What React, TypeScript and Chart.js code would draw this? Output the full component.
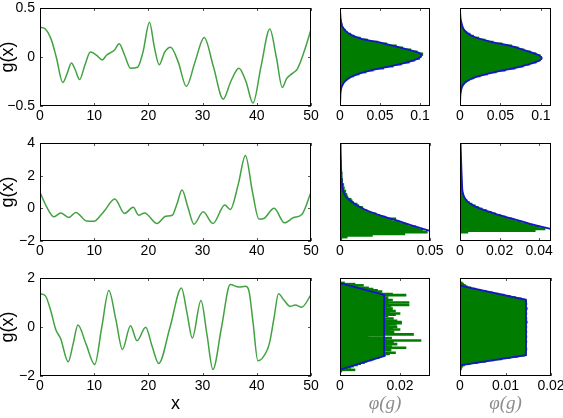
import React, { useEffect, useRef } from 'react';
import { Chart, registerables } from 'chart.js';
Chart.register(...registerables);

// ---------- left column: g(x) curves ----------
const X_TICKS = [0, 10, 20, 30, 40, 50];

const X1 = [0, 1, 2, 3, 4.2, 5, 5.8, 6.5, 7.3, 8.3, 9.3, 10.4, 11.5, 12.3, 13.2, 13.8, 14.6, 15.6, 16.7, 18, 19, 20.2, 21.1, 22, 23, 24.1, 25.5, 27, 28.6, 30.3, 32, 33.8, 35.2, 36.7, 38, 39.3, 40.8, 42.4, 43.6, 44.7, 45.5, 46.5, 47.5, 48.7, 50];
const G1 = [0.305, 0.285, 0.19, 0.0, -0.26, -0.17, -0.06, -0.13, -0.23, -0.08, 0.05, 0.02, -0.03, 0.02, 0.05, 0.075, 0.135, 0.02, -0.115, -0.105, 0.05, 0.355, 0.1, -0.08, 0.05, 0.1, -0.05, -0.3, -0.05, 0.2, -0.1, -0.43, -0.25, -0.115, -0.25, -0.47, -0.09, 0.285, 0, -0.31, -0.22, -0.17, -0.12, 0.05, 0.28];
const Y_TICKS_1 = [-0.5, 0, 0.5];

const X2 = [0, 1.2, 2.6, 3.8, 5.3, 6.6, 8.6, 10, 11, 11.8, 13.8, 15.6, 17.2, 18.2, 19.3, 21.6, 23.2, 24.4, 25.3, 26.2, 27.3, 28.4, 30.1, 31.9, 34.1, 35.1, 36.6, 37.9, 39.2, 40.4, 41.3, 43.2, 45.1, 46.8, 48.3, 50];
const G2 = [0.98, 0.1, -0.52, -0.28, -0.56, -0.25, -0.77, -0.79, -0.5, -0.2, 0.57, -0.31, 0.06, -0.42, -0.28, -0.93, -0.48, -0.42, 0.3, 1.12, 0.05, -0.97, -0.21, -0.93, 0.2, -0.07, 1.5, 3.24, 1.0, -0.66, -0.62, 0.0, -0.89, -0.56, -0.38, 0.98];
const Y_TICKS_2 = [-2, 0, 2, 4];

const X3 = [0, 1, 2, 2.9, 3.8, 5.2, 6.1, 7, 8.5, 10.1, 11.4, 12.7, 14, 15.2, 16.7, 17.9, 19.5, 20.7, 21.9, 24, 26.1, 27.1, 28.1, 29.7, 30.8, 31.9, 33.5, 35.1, 36.7, 37.9, 38.5, 39.3, 40.2, 41.9, 42.4, 43.2, 44, 45, 46.2, 47.1, 48.3, 50];
const G3 = [1.36, 1.27, 0.65, -0.1, -0.47, -1.42, -0.7, 0.08, -0.7, -1.53, 0.0, 1.49, 0.3, -0.92, 0.05, -0.56, -0.01, -0.8, -1.49, 0.0, 1.59, 0.6, -0.45, 1.08, -0.3, -1.73, 0.0, 1.73, 1.63, 1.66, 1.52, 0.2, -1.38, -0.95, -0.6, 0.4, 1.36, 1.1, 0.84, 0.9, 0.81, 1.32];
const Y_TICKS_3 = [-2, 0, 2];

// ---------- histograms: row 1 ----------
const BINS_1 = [0.39, 0.37, 0.35, 0.33, 0.31, 0.29, 0.27, 0.25, 0.23, 0.21, 0.19, 0.17, 0.15, 0.13, 0.11, 0.09, 0.07, 0.05, 0.03, 0.01, -0.01, -0.03, -0.05, -0.07, -0.09, -0.11, -0.13, -0.15, -0.17, -0.19, -0.21, -0.23, -0.25, -0.27, -0.29, -0.31, -0.33, -0.35, -0.37, -0.39];
const HIST_1M = [0.0008, 0.0012, 0.0016, 0.0026, 0.0032, 0.0045, 0.0068, 0.0093, 0.0135, 0.0178, 0.0255, 0.0345, 0.0475, 0.0585, 0.0705, 0.0785, 0.0885, 0.0965, 0.1035, 0.1015, 0.0995, 0.0935, 0.0865, 0.0765, 0.0665, 0.0545, 0.0415, 0.0325, 0.0238, 0.0172, 0.0118, 0.0088, 0.0059, 0.0041, 0.0029, 0.0021, 0.0013, 0.0009, 0.0006, 0.0004];
const HIST_1R = [0.0005, 0.0008, 0.0012, 0.0018, 0.0026, 0.004, 0.0058, 0.0085, 0.0125, 0.0168, 0.023, 0.031, 0.041, 0.052, 0.064, 0.072, 0.079, 0.087, 0.094, 0.099, 0.101, 0.099, 0.094, 0.086, 0.078, 0.068, 0.056, 0.045, 0.034, 0.025, 0.017, 0.011, 0.0078, 0.0052, 0.0034, 0.0023, 0.0015, 0.001, 0.0006, 0.0004];
const FIT_1M_G = [0.45, 0.38, 0.31, 0.243, 0.19, 0.14, 0.089, 0.045, 0.02, -0.014, -0.065, -0.116, -0.168, -0.22, -0.27, -0.34, -0.45];
const FIT_1M_D = [0.0003, 0.001, 0.003, 0.0104, 0.025, 0.054, 0.079, 0.098, 0.102, 0.098, 0.079, 0.05, 0.025, 0.0104, 0.004, 0.001, 0.0003];
const FIT_1R_G = [0.45, 0.38, 0.277, 0.209, 0.158, 0.106, 0.055, 0.02, -0.014, -0.048, -0.1, -0.15, -0.2, -0.253, -0.305, -0.38, -0.45];
const FIT_1R_D = [0.0002, 0.001, 0.005, 0.0165, 0.037, 0.066, 0.085, 0.097, 0.101, 0.095, 0.074, 0.045, 0.021, 0.0074, 0.0025, 0.0006, 0.0002];
const P_TICKS_1M = [0, 0.05, 0.1];
const P_TICKS_1R = [0, 0.05, 0.1];

// ---------- histograms: row 2 ----------
const BINS_2 = [-1.85, -1.75, -1.65, -1.55, -1.45, -1.35, -1.25, -1.15, -1.05, -0.95, -0.85, -0.75, -0.65, -0.55, -0.45, -0.35, -0.25, -0.15, -0.05, 0.05, 0.15, 0.25, 0.35, 0.45, 0.55, 0.65, 0.75, 0.85, 0.95, 1.05, 1.15, 1.25, 1.35, 1.45, 1.55, 1.65, 1.75, 1.85, 1.95, 2.05, 2.15, 2.25, 2.35, 2.45, 2.55, 2.65, 2.75, 2.85, 2.95, 3.05, 3.15, 3.25, 3.35, 3.45, 3.55, 3.65, 3.75, 3.85, 3.95];
const HIST_2M = [0.001, 0.004, 0.018, 0.036, 0.0485, 0.046, 0.044, 0.042, 0.038, 0.036, 0.033, 0.029, 0.031, 0.025, 0.022, 0.02, 0.017, 0.015, 0.013, 0.0125, 0.0105, 0.0095, 0.0075, 0.0068, 0.0062, 0.0045, 0.004, 0.0038, 0.0028, 0.0032, 0.0022, 0.0024, 0.0017, 0.0021, 0.0014, 0.0012, 0.0015, 0.0009, 0.0011, 0.0008, 0.0012, 0.0007, 0.0009, 0.0006, 0.0008, 0.0005, 0.0006, 0.0007, 0.0004, 0.0005, 0.0003, 0.0004, 0.0003, 0.0003, 0.0002, 0.0003, 0.0002, 0.0002, 0.0001];
const HIST_2R = [0, 0, 0, 0, 0.004, 0.038, 0.043, 0.04, 0.037, 0.034, 0.031, 0.028, 0.026, 0.023, 0.0205, 0.018, 0.0158, 0.0135, 0.0112, 0.0093, 0.0077, 0.0061, 0.0047, 0.0037, 0.0029, 0.0023, 0.0019, 0.0016, 0.0014, 0.0013, 0.0012, 0.0011, 0.001, 0.001, 0.0009, 0.0009, 0.0008, 0.0008, 0.0007, 0.0007, 0.0007, 0.0006, 0.0006, 0.0006, 0.0005, 0.0005, 0.0005, 0.0005, 0.0004, 0.0004, 0.0004, 0.0004, 0.0004, 0.0003, 0.0003, 0.0003, 0.0003, 0.0003, 0.0002];
const FIT_2M_G = [4, 2.46, 1.43, 1.02, 0.71, 0.4, 0.095, -0.21, -0.52, -0.83, -1.14, -1.38, -1.55];
const FIT_2M_D = [0.0003, 0.0006, 0.0011, 0.0019, 0.0033, 0.0065, 0.0107, 0.0167, 0.025, 0.034, 0.0426, 0.05, 0.056];
const FIT_2R_G = [4, 2.46, 1.6, 1.02, 0.61, 0.3, -0.007, -0.32, -0.62, -0.93, -1.24, -1.4];
const FIT_2R_D = [0.0003, 0.0007, 0.001, 0.0013, 0.0025, 0.005, 0.01, 0.0175, 0.026, 0.035, 0.0453, 0.052];
const P_TICKS_2M = [0, 0.05];
const P_TICKS_2R = [0, 0.02, 0.04];

// ---------- histograms: row 3 ----------
const BINS_3 = [1.8, 1.75, 1.7, 1.65, 1.6, 1.55, 1.5, 1.45, 1.4, 1.35, 1.3, 1.25, 1.2, 1.15, 1.1, 1.05, 1, 0.95, 0.9, 0.85, 0.8, 0.75, 0.7, 0.65, 0.6, 0.55, 0.5, 0.45, 0.4, 0.35, 0.3, 0.25, 0.2, 0.15, 0.1, 0.05, 0, -0.05, -0.1, -0.15, -0.2, -0.25, -0.3, -0.35, -0.4, -0.45, -0.5, -0.55, -0.6, -0.65, -0.7, -0.75, -0.8, -0.85, -0.9, -0.95, -1, -1.05, -1.1, -1.15, -1.2, -1.25, -1.3, -1.35, -1.4, -1.45, -1.5, -1.55, -1.6, -1.65, -1.7, -1.75, -1.8];
const HIST_3M = [0.0015, 0.005, 0.0078, 0.006, 0.0095, 0.011, 0.0125, 0.014, 0.0135, 0.0175, 0.022, 0.0145, 0.016, 0.0155, 0.0175, 0.016, 0.023, 0.016, 0.023, 0.017, 0.0155, 0.0175, 0.016, 0.0185, 0.0165, 0.02, 0.0185, 0.016, 0.0145, 0.0178, 0.0152, 0.019, 0.0205, 0.0205, 0.0188, 0.0163, 0.019, 0.0175, 0.02, 0.0165, 0.018, 0.0155, 0.0245, 0.0145, 0.0094, 0.0172, 0.0155, 0.027, 0.0178, 0.0165, 0.019, 0.0155, 0.0172, 0.022, 0.0155, 0.017, 0.0148, 0.0185, 0.0165, 0.0152, 0.0135, 0.013, 0.0115, 0.0106, 0.009, 0.0082, 0.0069, 0.0058, 0.0045, 0.0036, 0.0025, 0.005, 0.0006];
const HIST_3R = [0.0005, 0.0008, 0.0012, 0.0016, 0.0024, 0.0034, 0.0046, 0.0058, 0.0071, 0.0084, 0.0097, 0.011, 0.0122, 0.0135, 0.0144, 0.0146, 0.0145, 0.0147, 0.0144, 0.0146, 0.0145, 0.0148, 0.0144, 0.0146, 0.0145, 0.0147, 0.0145, 0.0146, 0.0144, 0.0147, 0.0145, 0.0146, 0.0148, 0.0145, 0.0146, 0.0144, 0.0147, 0.0145, 0.0146, 0.0144, 0.0147, 0.0145, 0.0146, 0.0145, 0.0147, 0.0144, 0.0146, 0.0145, 0.0147, 0.0145, 0.0146, 0.0144, 0.0146, 0.0145, 0.0147, 0.0145, 0.0146, 0.0144, 0.0145, 0.0142, 0.0127, 0.011, 0.0092, 0.0074, 0.0057, 0.0039, 0.0022, 0.001, 0.0006, 0.0004, 0.0003, 0.0002, 0.0001];
const FIT_3M_G = [1.79, 1.31, -1.19, -1.74];
const FIT_3M_D = [0, 0.0147, 0.0147, 0];
const FIT_3R_G = [1.72, 1.68, 1.11, -1.15, -1.56, -1.6];
const FIT_3R_D = [0, 0.0003, 0.0145, 0.0145, 0.0003, 0];
const P_TICKS_3M = [0, 0.02];
const P_TICKS_3R = [0, 0.01, 0.02];

// ---------- styling ----------
const FONT = 'Liberation Sans, Arial, Helvetica, sans-serif';
const SERIF = 'Liberation Serif, DejaVu Serif, serif';
const LINE_GREEN = '#42a242';
const BAR_GREEN = '#007c00';
const BLUE = '#1616c4';
const TICK_FONT = { family: FONT, size: 14 };
const PAD_T = 8;
const PLOT_H = 98;

const fmt = (v: number) => String(v).replace('-', '\u2212');

const framePlugin = {
  id: 'frame',
  afterDraw(chart: any, _args: any, opts: any) {
    const { ctx, chartArea: a } = chart;
    ctx.save();
    ctx.lineWidth = 1;
    ctx.strokeStyle = '#555';
    ctx.beginPath();
    const xs = chart.scales.x;
    xs.ticks.forEach((t: any) => {
      const p = Math.round(xs.getPixelForValue(t.value)) + 0.5;
      ctx.moveTo(p, a.bottom);
      ctx.lineTo(p, a.bottom - 3);
      ctx.moveTo(p, a.top);
      ctx.lineTo(p, a.top + 3);
    });
    if (opts && opts.yTicks) {
      const ys = chart.scales.y;
      ys.ticks.forEach((t: any) => {
        const p = Math.round(ys.getPixelForValue(t.value)) + 0.5;
        ctx.moveTo(a.left, p);
        ctx.lineTo(a.left + 3, p);
        ctx.moveTo(a.right, p);
        ctx.lineTo(a.right - 3, p);
      });
    }
    ctx.stroke();
    ctx.strokeStyle = '#000';
    ctx.strokeRect(a.left + 0.5, a.top + 0.5, a.right - a.left - 1, a.bottom - a.top - 1);
    ctx.restore();
  },
};

const zeroPad = (s: any) => {
  s.paddingLeft = 0;
  s.paddingRight = 0;
  s.paddingTop = 0;
  s.paddingBottom = 0;
};

const setTicks = (arr: number[]) => (s: any) => {
  s.ticks = arr.map((v) => ({ value: v }));
};

function xScale(min: number, max: number, ticks: number[], padB: number, title: any) {
  return {
    type: 'linear',
    min,
    max,
    offset: false,
    afterBuildTicks: setTicks(ticks),
    afterFit: (s: any) => {
      s.height = padB;
      zeroPad(s);
    },
    grid: { display: false, drawTicks: false, offset: false },
    border: { display: false },
    ticks: { font: TICK_FONT, color: '#000', padding: 2, maxRotation: 0, autoSkip: false, callback: fmt },
    title: title || { display: false },
  };
}

function lineConfig(xs: number[], gs: number[], yMin: number, yMax: number, yTicks: number[], padB: number, title: any) {
  return {
    type: 'line',
    data: {
      datasets: [
        {
          data: xs.map((x, i) => ({ x, y: gs[i] })),
          borderColor: LINE_GREEN,
          borderWidth: 1.5,
          pointRadius: 0,
          cubicInterpolationMode: 'monotone',
          fill: false,
        },
      ],
    },
    options: {
      responsive: false,
      animation: false,
      devicePixelRatio: 1,
      events: [],
      layout: { padding: { left: 0, right: 12, top: PAD_T, bottom: 0 } },
      plugins: { legend: { display: false }, tooltip: { enabled: false }, frame: { yTicks: true } },
      scales: {
        x: xScale(0, 50, X_TICKS, padB, title),
        y: {
          type: 'linear',
          min: yMin,
          max: yMax,
          afterBuildTicks: setTicks(yTicks),
          afterFit: (s: any) => {
            s.width = 40;
            zeroPad(s);
          },
          grid: { display: false, drawTicks: false },
          border: { display: false },
          ticks: { font: TICK_FONT, color: '#000', padding: 5, callback: fmt },
          title: {
            display: true,
            text: 'g(x)',
            color: '#000',
            font: { family: FONT, size: 18, lineHeight: 0.9 },
            padding: 0,
          },
        },
      },
    },
    plugins: [framePlugin],
  };
}

function histConfig(
  bins: number[], dens: number[], fitD: number[], fitG: number[],
  yMin: number, yMax: number, xMax: number, xTicks: number[],
  tension: number, padB: number, padR: number, title: any
) {
  // bar thickness: one bin height in pixels, plus a little overlap so bars touch
  const thick = (Math.abs(bins[1] - bins[0]) / (yMax - yMin)) * PLOT_H + 0.7;
  return {
    type: 'bar',
    data: {
      datasets: [
        {
          type: 'line',
          data: fitD.map((d, i) => ({ x: d, y: fitG[i] })),
          borderColor: BLUE,
          borderWidth: 1.8,
          pointRadius: 0,
          tension,
          fill: false,
          order: 0,
        },
        {
          type: 'bar',
          data: bins.map((g, i) => ({ x: dens[i], y: g })),
          backgroundColor: BAR_GREEN,
          borderWidth: 0,
          barThickness: thick,
          order: 1,
        },
      ],
    },
    options: {
      indexAxis: 'y',
      responsive: false,
      animation: false,
      devicePixelRatio: 1,
      events: [],
      layout: { padding: { left: 10, right: padR, top: PAD_T, bottom: 0 } },
      plugins: { legend: { display: false }, tooltip: { enabled: false }, frame: { yTicks: false } },
      scales: {
        x: xScale(0, xMax, xTicks, padB, title),
        y: { type: 'linear', min: yMin, max: yMax, offset: false, grid: { offset: false }, display: false },
      },
    },
    plugins: [framePlugin],
  };
}

const X_TITLE = {
  display: true,
  text: 'x',
  color: '#000',
  font: { family: FONT, size: 18, lineHeight: 1 },
  padding: { top: 0, bottom: 5 },
};
const PHI_TITLE = {
  display: true,
  text: '\u03c6(g)',
  color: '#8c8c8c',
  font: { family: SERIF, size: 19, style: 'italic', lineHeight: 1 },
  padding: { top: 0, bottom: 5 },
};

function Panel({ left, top, width, height, make }: any) {
  const ref = useRef<HTMLCanvasElement | null>(null);
  useEffect(() => {
    const chart = new Chart(ref.current as HTMLCanvasElement, make() as any);
    return () => chart.destroy();
  }, []);
  return (
    <canvas
      ref={ref}
      width={width}
      height={height}
      style={{ position: 'absolute', left, top, width, height }}
    />
  );
}

const ROW_TOPS = [8, 143, 278];

export default function App() {
  const pb = [28, 28, 42];
  const h = (r: number) => PAD_T + PLOT_H + pb[r];
  const t = (r: number) => ROW_TOPS[r] - PAD_T;
  return (
    <div style={{ position: 'fixed', left: 0, top: 0, width: 563, height: 418, background: '#fff', overflow: 'hidden' }}>
      <Panel left={0} top={t(0)} width={323} height={h(0)} make={() => lineConfig(X1, G1, -0.5, 0.5, Y_TICKS_1, pb[0], null)} />
      <Panel left={0} top={t(1)} width={323} height={h(1)} make={() => lineConfig(X2, G2, -2, 4, Y_TICKS_2, pb[1], null)} />
      <Panel left={0} top={t(2)} width={323} height={h(2)} make={() => lineConfig(X3, G3, -2, 2, Y_TICKS_3, pb[2], X_TITLE)} />

      <Panel left={330} top={t(0)} width={118} height={h(0)} make={() => histConfig(BINS_1, HIST_1M, FIT_1M_D, FIT_1M_G, -0.5, 0.5, 0.1125, P_TICKS_1M, 0.3, pb[0], 18, null)} />
      <Panel left={330} top={t(1)} width={118} height={h(1)} make={() => histConfig(BINS_2, HIST_2M, FIT_2M_D, FIT_2M_G, -2, 4, 0.05, P_TICKS_2M, 0.3, pb[1], 18, null)} />
      <Panel left={330} top={t(2)} width={118} height={h(2)} make={() => histConfig(BINS_3, HIST_3M, FIT_3M_D, FIT_3M_G, -2, 2, 0.03, P_TICKS_3M, 0, pb[2], 18, PHI_TITLE)} />

      <Panel left={450} top={t(0)} width={113} height={h(0)} make={() => histConfig(BINS_1, HIST_1R, FIT_1R_D, FIT_1R_G, -0.5, 0.5, 0.1125, P_TICKS_1R, 0.3, pb[0], 12, null)} />
      <Panel left={450} top={t(1)} width={113} height={h(1)} make={() => histConfig(BINS_2, HIST_2R, FIT_2R_D, FIT_2R_G, -2, 4, 0.046, P_TICKS_2R, 0.3, pb[1], 12, null)} />
      <Panel left={450} top={t(2)} width={113} height={h(2)} make={() => histConfig(BINS_3, HIST_3R, FIT_3R_D, FIT_3R_G, -2, 2, 0.02, P_TICKS_3R, 0, pb[2], 12, PHI_TITLE)} />
    </div>
  );
}
